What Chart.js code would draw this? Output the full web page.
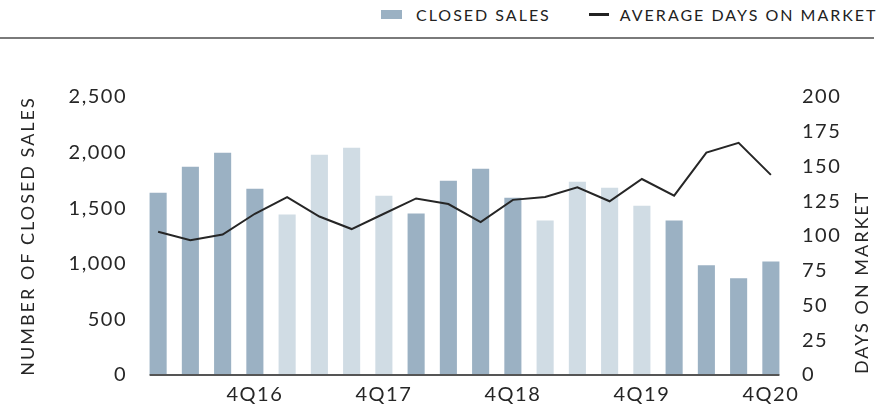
<!DOCTYPE html>
<html>
<head>
<meta charset="utf-8">
<script src="https://cdn.jsdelivr.net/npm/chart.js@4"></script>
<style>
  body { margin: 0; background: #fff; font-family: Lato, "Noto Sans", sans-serif; }
  #wrap { position: relative; width: 891px; height: 409px; }
  #legend { position: absolute; top: 3px; left: 381px; font-size: 16px; letter-spacing: 2px; color: #222; white-space: nowrap; }
  #legend span { display: inline-block; vertical-align: middle; }
  .sw-bar { width: 21px; height: 9px; background: #9bb1c3; margin-right: 14px; }
  .sw-line { width: 20px; height: 3px; background: #222; margin: 0 11px 0 38px; }
  #rule { position: absolute; left: 0; top: 37px; width: 874px; height: 2px; background: #7a7a7a; }
  canvas { position: absolute; left: 0; top: 0; }
</style>
</head>
<body>
<div id="wrap">
  <div id="legend"><span class="sw-bar"></span><span>CLOSED SALES</span><span class="sw-line"></span><span>AVERAGE DAYS ON MARKET</span></div>
  <div id="rule"></div>
  <canvas id="chart" width="891" height="409"></canvas>
</div>
<script>
// data
const quarters = ['1Q16','2Q16','3Q16','4Q16','1Q17','2Q17','3Q17','4Q17','1Q18','2Q18','3Q18','4Q18',
                  '1Q19','2Q19','3Q19','4Q19','1Q20','2Q20','3Q20','4Q20'];
const closedSales = [1640, 1873, 1998, 1676, 1443, 1980, 2043, 1613, 1452, 1747, 1855, 1595,
                     1389, 1738, 1685, 1523, 1389, 986, 869, 1021];
const daysOnMarket = [103, 97, 101, 116, 128, 114, 105, 116, 127, 123, 110, 126,
                      128, 135, 125, 141, 129, 160, 167, 144];
const salesTicks = [0, 500, 1000, 1500, 2000, 2500];
const domTicks = [0, 25, 50, 75, 100, 125, 150, 175, 200];

const DARK = '#9bb1c3', LIGHT = '#d0dce4', INK = '#262626';
const tickFont = { family: 'Lato', size: 20 };

// even years (2016, 2018, 2020) dark, odd years lighter
function barColor(ctx) {
  const yr = parseInt(quarters[ctx.dataIndex].slice(2));
  return yr % 2 ? LIGHT : DARK;
}

const spacing = {
  id: 'spacing',
  beforeDraw(chart) { chart.ctx.letterSpacing = '1.5px'; }
};

function vTitle(ctx, text, x, y, align) {
  ctx.save();
  ctx.letterSpacing = '2px';
  ctx.font = '18px Lato';
  ctx.fillStyle = INK;
  ctx.translate(x, y);
  ctx.rotate(-Math.PI / 2);
  ctx.textAlign = align; ctx.textBaseline = 'middle';
  ctx.fillText(text, 0, 0);
  ctx.restore();
}

// baseline under the bars + both axis titles reading bottom-to-top
const extras = {
  id: 'extras',
  afterDatasetsDraw(chart) {
    const ctx = chart.ctx, bars = chart.getDatasetMeta(0).data;
    const a = bars[0], b = bars[bars.length - 1];
    const y = chart.scales.y.getPixelForValue(0);
    ctx.save();
    ctx.strokeStyle = '#555'; ctx.lineWidth = 2;
    ctx.beginPath(); ctx.moveTo(a.x - a.width / 2, y); ctx.lineTo(b.x + b.width / 2, y); ctx.stroke();
    ctx.restore();
  },
  afterDraw(chart) {
    const area = chart.chartArea;
    vTitle(chart.ctx, 'NUMBER OF CLOSED SALES', 28, (area.top + area.bottom) / 2, 'center');
    vTitle(chart.ctx, 'DAYS ON MARKET', chart.width - 29, chart.scales.y1.getPixelForValue(0) - 1, 'left');
  }
};

new Chart(document.getElementById('chart'), {
  data: {
    labels: quarters,
    datasets: [
      { type: 'bar', label: 'Closed Sales', data: closedSales, yAxisID: 'y', order: 1,
        backgroundColor: barColor, categoryPercentage: 1, barPercentage: 0.53 },
      { type: 'line', label: 'Average Days on Market', data: daysOnMarket, yAxisID: 'y1', order: 0,
        borderColor: INK, borderWidth: 2, pointRadius: 0, tension: 0, fill: false }
    ]
  },
  options: {
    responsive: false,
    animation: false,
    layout: { padding: { top: 97, left: 0, right: 0, bottom: 0 } },
    plugins: { legend: { display: false }, tooltip: { enabled: false } },
    scales: {
      x: {
        offset: true,
        grid: { display: false, drawTicks: false },
        border: { display: false },
        afterFit(s) { s.height = 34; },
        ticks: { color: INK, font: tickFont, padding: 8, autoSkip: false, maxRotation: 0,
          callback(v, i) { return quarters[i].startsWith('4Q') ? quarters[i] : ''; } }
      },
      y: {
        position: 'left', min: 0, max: 2500,
        grid: { display: false, drawTicks: false },
        border: { display: false },
        afterFit(s) { s.width = 142; },
        afterBuildTicks(s) { s.ticks = salesTicks.map(v => ({ value: v })); },
        ticks: { color: INK, font: tickFont, padding: 15, callback: v => v.toLocaleString('en-US') }
      },
      y1: {
        position: 'right', min: 0, max: 200,
        grid: { display: false, drawTicks: false },
        border: { display: false },
        afterFit(s) { s.width = 104; },
        afterBuildTicks(s) { s.ticks = domTicks.map(v => ({ value: v })); },
        ticks: { color: INK, font: tickFont, padding: 15 }
      }
    }
  },
  plugins: [spacing, extras]
});
</script>
</body>
</html>
